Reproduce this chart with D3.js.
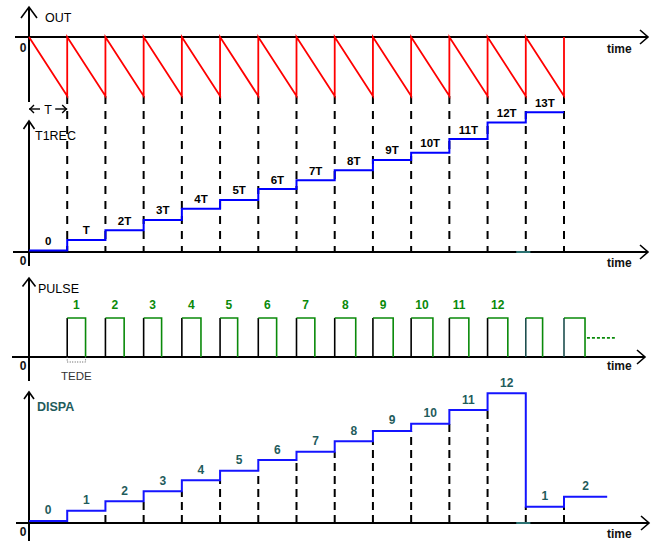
<!DOCTYPE html>
<html><head><meta charset="utf-8">
<script src="https://cdn.jsdelivr.net/npm/d3@7/dist/d3.min.js"></script>
<style>body{margin:0;background:#fff}svg{display:block}text{font-family:"Liberation Sans",Arial,sans-serif}</style>
</head><body><svg id="c" width="655" height="541"></svg>
<script>
// ---------- data (time in units of T) ----------
const boundaries = d3.range(0, 15);            // period boundaries 0..14 T
const sawLow = -1;                              // OUT sawtooth minimum (relative)
const t1recLabels = ["0","T","2T","3T","4T","5T","6T","7T","8T","9T","10T","11T","12T","13T"];
const t1recLevels = [0.14,1.12,2.02,2.98,4.03,4.84,5.86,6.67,7.60,8.56,9.24,10.51,12.05,13.0];
const pulseLabels = ["1","2","3","4","5","6","7","8","9","10","11","12","",""];
const pulseWidths = [0.48,0.49,0.47,0.50,0.46,0.48,0.48,0.55,0.53,0.57,0.51,0.53,0.44,0.55];
const pulseTail = [14.6, 15.33];
const pulseTailLevel = 0.49;
const dispaLabels = ["0","1","2","3","4","5","6","7","8","9","10","11","12","1","2"];
const dispaLevels = [0.19,1.14,2.02,2.95,3.97,4.87,5.86,6.63,7.60,8.56,9.24,10.51,12.07,1.52,2.45];
const dispaEnd = 15.13;
const baseMarkSpan = [12.75, 13.12];            // small teal mark on the baselines

// ---------- scales ----------
const svg = d3.select("#c");
const x  = d3.scaleLinear().domain([0, 14]).range([29, 564]);
const yO = d3.scaleLinear().domain([sawLow, 0]).range([96, 37]);
const yT = d3.scaleLinear().domain([0, 13]).range([252, 112.25]);
const yP = d3.scaleLinear().domain([0, 1]).range([357, 318]);
const yD = d3.scaleLinear().domain([0, 13]).range([523, 383.25]);

const RED = "#ff0000", BLUE = "#0000ff", GREEN = "#0a8a0a", TEAL = "#1f5c5c";

const gDash = svg.append("g"), gAxis = svg.append("g"), gMarks = svg.append("g"), gText = svg.append("g");

// ---------- axes ----------
function axes(y0, xStart, xTip, axTop, axBottom, upW, upH, timeY, zeroY) {
  gAxis.append("line").attr("x1", xStart).attr("x2", xTip).attr("y1", y0).attr("y2", y0)
    .attr("stroke", "#000").attr("stroke-width", 2);
  gAxis.append("path").attr("d", `M${xTip-8},${y0-7}L${xTip},${y0}L${xTip-8},${y0+7}`)
    .attr("fill", "none").attr("stroke", "#000").attr("stroke-width", 1.6);
  gAxis.append("line").attr("x1", x(0)).attr("x2", x(0)).attr("y1", axTop).attr("y2", axBottom)
    .attr("stroke", "#000").attr("stroke-width", 2);
  gAxis.append("path").attr("d", `M${x(0)-upW},${axTop+upH}L${x(0)},${axTop}L${x(0)+upW},${axTop+upH}`)
    .attr("fill", "none").attr("stroke", "#000").attr("stroke-width", 1.6);
  gText.append("text").attr("x", 607).attr("y", timeY).text("time")
    .attr("font-size", 12).attr("font-weight", "bold").attr("fill", "#111");
  gText.append("text").attr("x", 23).attr("y", zeroY).text("0").attr("text-anchor", "middle")
    .attr("font-size", 12).attr("font-weight", "bold").attr("fill", "#111");
}
axes(yO(0), 15, 648, 7, 102, 8, 11, 53, 52);
axes(yT(0), 13, 648, 121, 266, 5.5, 8, 267, 265);
axes(yP(0), 12, 645, 278, 381, 6.5, 8.5, 370, 370);
axes(yD(0), 16, 649, 392, 541, 5, 7, 538, 536);

// small teal marks on the T1REC and DISPA baselines
[yT, yD].forEach(ys => {
  gMarks.append("line").attr("x1", x(baseMarkSpan[0])).attr("x2", x(baseMarkSpan[1]))
    .attr("y1", ys(0)).attr("y2", ys(0)).attr("stroke", "#2a7070").attr("stroke-width", 2);
});

// panel titles
gText.append("text").attr("x", 45).attr("y", 22).text("OUT").attr("font-size", 12.5).attr("fill", "#000");
gText.append("text").attr("x", 35).attr("y", 140).text("T1REC").attr("font-size", 12.5).attr("fill", "#000");
gText.append("text").attr("x", 38).attr("y", 293).text("PULSE").attr("font-size", 12.5).attr("fill", "#000");
gText.append("text").attr("x", 37).attr("y", 411).text("DISPA").attr("font-size", 12.5)
  .attr("font-weight", "bold").attr("fill", TEAL);

// ---------- OUT sawtooth ----------
const sawPts = [];
boundaries.slice(0, -1).forEach(k => {
  sawPts.push([k, 0], [k + 1, sawLow], [k + 1, 0]);
});
const lineO = d3.line().x(d => x(d[0])).y(d => yO(d[1]));
gMarks.append("path").attr("d", lineO(sawPts)).attr("fill", "none")
  .attr("stroke", RED).attr("stroke-width", 1.8).attr("stroke-linejoin", "miter");

// dashed guides OUT -> T1REC
boundaries.slice(1).forEach(k => {
  gDash.append("line").attr("x1", x(k)).attr("x2", x(k)).attr("y1", yO(sawLow)).attr("y2", yT(0))
    .attr("stroke", "#000").attr("stroke-width", 2).attr("stroke-dasharray", "8,7");
});

// T annotation
{
  const ya = 109, g = gMarks.append("g").attr("stroke", "#000").attr("stroke-width", 1.4).attr("fill", "none");
  g.append("line").attr("x1", x(0)).attr("x2", x(0) + 11).attr("y1", ya).attr("y2", ya);
  g.append("path").attr("d", `M${x(0)+5},${ya-4}L${x(0)+1},${ya}L${x(0)+5},${ya+4}`);
  g.append("line").attr("x1", x(1) - 12).attr("x2", x(1)).attr("y1", ya).attr("y2", ya);
  g.append("path").attr("d", `M${x(1)-5},${ya-4}L${x(1)-1},${ya}L${x(1)-5},${ya+4}`);
  gText.append("text").attr("x", x(0.5)).attr("y", ya + 4.5).attr("text-anchor", "middle")
    .attr("font-size", 12.5).text("T");
}

// ---------- T1REC staircase ----------
const stepLine = (ys) => d3.line().curve(d3.curveStepAfter).x(d => x(d[0])).y(d => ys(d[1]));
const tPts = t1recLevels.map((v, i) => [i, v]).concat([[14, t1recLevels[13]]]);
gMarks.append("path").attr("d", stepLine(yT)(tPts)).attr("fill", "none")
  .attr("stroke", BLUE).attr("stroke-width", 2);
t1recLabels.forEach((s, i) => {
  gText.append("text").attr("x", x(i + 0.5)).attr("y", yT(t1recLevels[i]) - 5.5)
    .attr("text-anchor", "middle").attr("font-size", 11.5).attr("font-weight", "bold").text(s);
});

// ---------- PULSE ----------
pulseWidths.forEach((w, i) => {
  const k = i + 1;
  gMarks.append("line").attr("x1", x(k)).attr("x2", x(k)).attr("y1", yP(0)).attr("y2", yP(1))
    .attr("stroke", i >= 12 ? "#1d4f4f" : "#000").attr("stroke-width", 1.6);
  gMarks.append("path").attr("d", `M${x(k)},${yP(1)}H${x(k + w)}V${yP(0)}`)
    .attr("fill", "none").attr("stroke", GREEN).attr("stroke-width", 1.6);
  if (pulseLabels[i]) gText.append("text").attr("x", x(k + w / 2)).attr("y", yP(1) - 9)
    .attr("text-anchor", "middle").attr("font-size", 12).attr("font-weight", "bold")
    .attr("fill", GREEN).text(pulseLabels[i]);
});
gMarks.append("line").attr("x1", x(pulseTail[0])).attr("x2", x(pulseTail[1]))
  .attr("y1", yP(pulseTailLevel)).attr("y2", yP(pulseTailLevel))
  .attr("stroke", GREEN).attr("stroke-width", 1.6).attr("stroke-dasharray", "3,2");
// TEDE bracket
gMarks.append("path").attr("d", `M${x(1)},${yP(0)}V${yP(0)+5}H${x(1 + pulseWidths[0])}V${yP(0)}`)
  .attr("fill", "none").attr("stroke", "#555").attr("stroke-width", 1).attr("stroke-dasharray", "1,1.5");
gText.append("text").attr("x", x(1 + pulseWidths[0] / 2)).attr("y", 380).attr("text-anchor", "middle")
  .attr("font-size", 11.5).attr("fill", "#333").text("TEDE");

// ---------- DISPA ----------
const dPts = dispaLevels.map((v, i) => [i, v]).concat([[dispaEnd, dispaLevels[14]]]);
gMarks.append("path").attr("d", stepLine(yD)(dPts)).attr("fill", "none")
  .attr("stroke", "#1414ff").attr("stroke-width", 2);
boundaries.slice(1).forEach(k => {
  const lower = Math.min(dispaLevels[k - 1], dispaLevels[k]);
  if (lower < 0.5) return;
  gDash.append("line").attr("x1", x(k)).attr("x2", x(k)).attr("y1", yD(0)).attr("y2", yD(lower))
    .attr("stroke", "#000").attr("stroke-width", 2).attr("stroke-dasharray", "8,5");
});
dispaLabels.forEach((s, i) => {
  const cx = i < 14 ? x(i + 0.5) : x((14 + dispaEnd) / 2);
  gText.append("text").attr("x", cx).attr("y", yD(dispaLevels[i]) - 6.5)
    .attr("text-anchor", "middle").attr("font-size", 12).attr("font-weight", "bold")
    .attr("fill", TEAL).text(s);
});
</script></body></html>
